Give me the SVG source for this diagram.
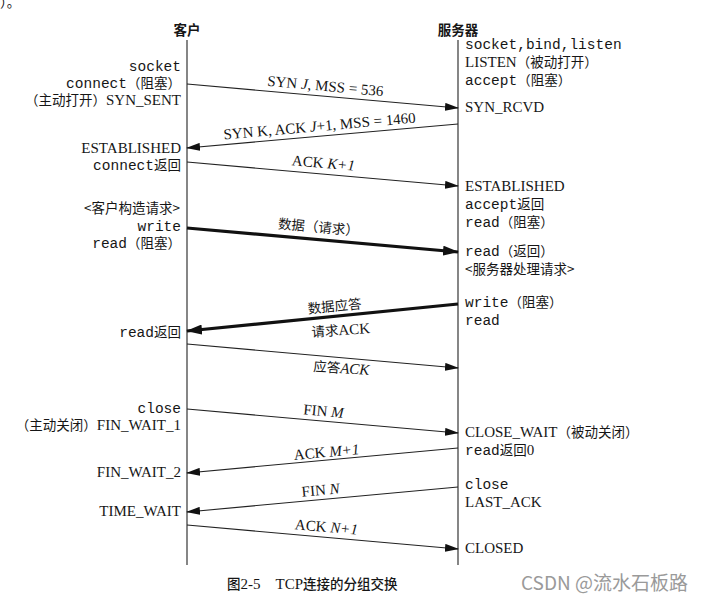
<svg xmlns="http://www.w3.org/2000/svg" width="707" height="603" viewBox="0 0 707 603">
<style>
text{fill:#161616}
.m{font-family:"Liberation Mono","DejaVu Sans Mono",monospace;font-size:14.5px}
.s{font-family:"Liberation Serif","DejaVu Serif",serif;font-size:15px}
.c{font-family:"Noto Sans CJK SC",sans-serif;font-size:13.5px}
.i{font-style:italic}
.l{text-anchor:end}
.mid{text-anchor:middle}
.thin{stroke:#222;stroke-width:1.1;fill:none}
.thick{stroke:#111;stroke-width:3.2;fill:none}
.life{stroke:#444;stroke-width:1.3}
</style>
<defs>
<marker id="ah" viewBox="0 0 14 8" markerWidth="14" markerHeight="8" refX="13" refY="4" orient="auto" markerUnits="userSpaceOnUse"><path d="M0,0 L14,4 L0,8 z" fill="#111"/></marker>
<marker id="ahb" viewBox="0 0 16 10" markerWidth="16" markerHeight="10" refX="15" refY="5" orient="auto" markerUnits="userSpaceOnUse"><path d="M0,0 L16,5 L0,10 z" fill="#111"/></marker>
</defs>
<rect width="707" height="603" fill="#fff"/>
<text x="0" y="7" class="c" font-size="14">）。</text>

<g id="client">
<text x="187" y="35" class="c mid" font-size="14.5" font-weight="bold">客户</text>
<line x1="187" y1="40" x2="187" y2="565" class="life"/>
<text x="181" y="71" class="m l">socket</text>
<text x="181" y="88" class="l"><tspan class="m">connect</tspan><tspan class="c">（阻塞）</tspan></text>
<text x="181" y="105" class="l"><tspan class="c">（主动打开）</tspan><tspan class="s">SYN_SENT</tspan></text>
<text x="181" y="153" class="s l">ESTABLISHED</text>
<text x="181" y="170" class="l"><tspan class="m">connect</tspan><tspan class="c">返回</tspan></text>
<text x="180" y="213" class="c l" font-size="12.5">&lt;客户构造请求&gt;</text>
<text x="181" y="231" class="m l">write</text>
<text x="181" y="248" class="l"><tspan class="m">read</tspan><tspan class="c">（阻塞）</tspan></text>
<text x="181" y="337" class="l"><tspan class="m">read</tspan><tspan class="c">返回</tspan></text>
<text x="181" y="413" class="m l">close</text>
<text x="181" y="430" class="l"><tspan class="c">（主动关闭）</tspan><tspan class="s">FIN_WAIT_1</tspan></text>
<text x="181" y="477" class="s l">FIN_WAIT_2</text>
<text x="181" y="516" class="s l">TIME_WAIT</text>
</g>

<g id="server">
<text x="458" y="35" class="c mid" font-size="14.5" font-weight="bold">服务器</text>
<line x1="458" y1="40" x2="458" y2="565" class="life"/>
<text x="465" y="49" class="m">socket,bind,listen</text>
<text x="465" y="67"><tspan class="s">LISTEN</tspan><tspan class="c">（被动打开）</tspan></text>
<text x="465" y="85"><tspan class="m">accept</tspan><tspan class="c">（阻塞）</tspan></text>
<text x="465" y="112" class="s">SYN_RCVD</text>
<text x="465" y="191" class="s">ESTABLISHED</text>
<text x="465" y="209"><tspan class="m">accept</tspan><tspan class="c">返回</tspan></text>
<text x="465" y="227"><tspan class="m">read</tspan><tspan class="c">（阻塞）</tspan></text>
<text x="465" y="256"><tspan class="m">read</tspan><tspan class="c">（返回）</tspan></text>
<text x="465" y="274" class="c" font-size="12.5">&lt;服务器处理请求&gt;</text>
<text x="465" y="307"><tspan class="m">write</tspan><tspan class="c">（阻塞）</tspan></text>
<text x="465" y="325" class="m">read</text>
<text x="465" y="437"><tspan class="s">CLOSE_WAIT</tspan><tspan class="c">（被动关闭）</tspan></text>
<text x="465" y="455"><tspan class="m">read</tspan><tspan class="c">返回</tspan><tspan class="s" font-size="11">0</tspan></text>
<text x="465" y="489" class="m">close</text>
<text x="465" y="507" class="s">LAST_ACK</text>
<text x="465" y="553" class="s">CLOSED</text>
</g>

<g id="connectors">
<line x1="187" y1="84" x2="458" y2="108" class="thin" marker-end="url(#ah)"/>
<text class="s mid" transform="translate(325 91) rotate(5.06)">SYN <tspan class="i">J</tspan>, MSS = 536</text>

<line x1="458" y1="124" x2="187" y2="148" class="thin" marker-end="url(#ah)"/>
<text class="s mid" transform="translate(320 131) rotate(-5.06)">SYN K, ACK <tspan class="i">J</tspan>+1, MSS = 1460</text>

<line x1="187" y1="162" x2="458" y2="186" class="thin" marker-end="url(#ah)"/>
<text class="s mid" transform="translate(323 168) rotate(5.06)">ACK <tspan class="i">K+1</tspan></text>

<line x1="187" y1="228" x2="458" y2="252" class="thick" marker-end="url(#ahb)"/>
<text class="c mid" transform="translate(318 232) rotate(5.06)">数据（请求）</text>

<line x1="458" y1="304" x2="187" y2="331" class="thick" marker-end="url(#ahb)"/>
<text class="c mid" transform="translate(335 311) rotate(-5.7)">数据应答</text>
<text class="mid" transform="translate(341 335) rotate(-4)"><tspan class="c">请求</tspan><tspan class="s">ACK</tspan></text>

<line x1="187" y1="344" x2="458" y2="368" class="thin" marker-end="url(#ah)"/>
<text class="mid" transform="translate(341 373) rotate(4)"><tspan class="c">应答</tspan><tspan class="s i">ACK</tspan></text>

<line x1="187" y1="409" x2="458" y2="433" class="thin" marker-end="url(#ah)"/>
<text class="s mid" transform="translate(323 416) rotate(5.06)">FIN <tspan class="i">M</tspan></text>

<line x1="458" y1="448" x2="187" y2="473" class="thin" marker-end="url(#ah)"/>
<text class="s mid" transform="translate(327 457) rotate(-5.3)">ACK <tspan class="i">M+1</tspan></text>

<line x1="458" y1="487" x2="187" y2="512" class="thin" marker-end="url(#ah)"/>
<text class="s mid" transform="translate(321 495) rotate(-5.3)">FIN <tspan class="i">N</tspan></text>

<line x1="187" y1="525" x2="458" y2="549" class="thin" marker-end="url(#ah)"/>
<text class="s mid" transform="translate(326 532) rotate(5.06)">ACK <tspan class="i">N+1</tspan></text>
</g>

<g id="caption">
<text x="227" y="589" font-weight="500"><tspan class="c" font-size="16">图</tspan><tspan class="s" font-size="16">2-5</tspan><tspan class="s" font-size="16" dx="15">TCP</tspan><tspan class="c" font-size="16">连接的分组交换</tspan></text>
<text x="521" y="590" font-family="'Noto Sans CJK SC',sans-serif" font-size="19" style="fill:#9a9a9a">CSDN @流水石板路</text>
</g>
</svg>
